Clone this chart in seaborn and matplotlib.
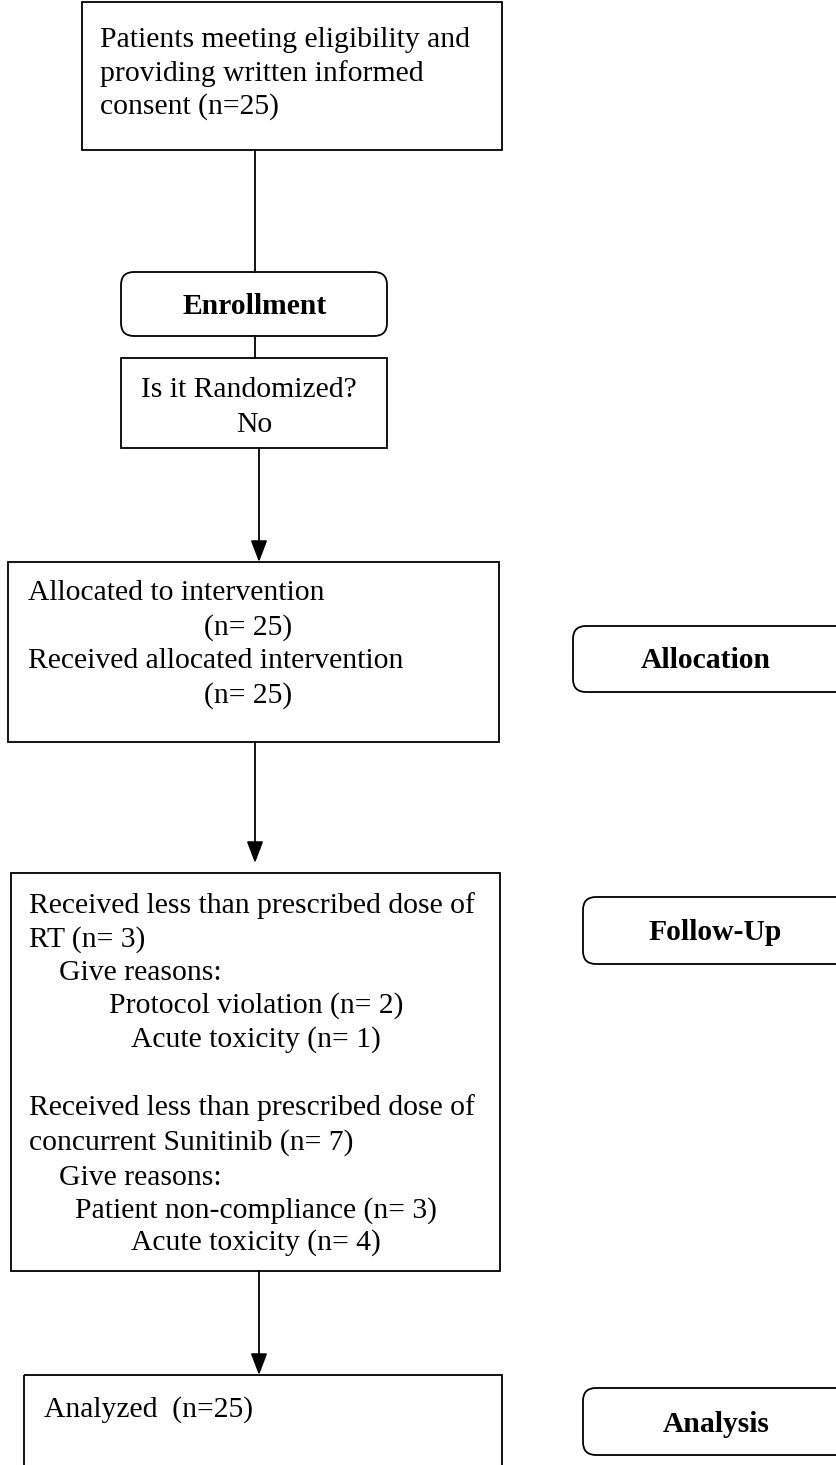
import matplotlib
matplotlib.use("Agg")
import matplotlib.pyplot as plt
from matplotlib.patches import Rectangle, FancyBboxPatch
import seaborn as sns

# Textos do fluxograma (CONSORT)
texto_elegiveis = ["Patients meeting eligibility and",
                   "providing written informed",
                   "consent (n=25)"]
texto_randomizado = ["Is it Randomized?", "No"]
texto_alocacao = ["Allocated to intervention", "(n= 25)",
                  "Received allocated intervention", "(n= 25)"]
texto_seguimento = ["Received less than prescribed dose of",
                    "RT (n= 3)",
                    "Give reasons:",
                    "Protocol violation (n= 2)",
                    "Acute toxicity (n= 1)",
                    "Received less than prescribed dose of",
                    "concurrent Sunitinib (n= 7)",
                    "Give reasons:",
                    "Patient non-compliance (n= 3)",
                    "Acute toxicity (n= 4)"]
texto_analise = ["Analyzed  (n=25)"]
etapas = ["Enrollment", "Allocation", "Follow-Up", "Analysis"]

sns.set_theme(style="white")
plt.rcParams['font.family'] = ['Liberation Serif', 'DejaVu Serif']

fig = plt.figure(figsize=(8.37, 14.65), dpi=100)
ax = fig.add_axes([0, 0, 1, 1])
ax.set_xlim(0, 837)
ax.set_ylim(1465, 0)
ax.axis('off')

lw = 1.3
fs = 21.3
dy = 2  # pequeno ajuste vertical do texto


def caixa(x0, y0, x1, y1):
    ax.add_patch(Rectangle((x0, y0), x1 - x0, y1 - y0, fill=False,
                           edgecolor='black', linewidth=lw))


def caixa_redonda(x0, y0, x1, y1, texto, cx, cy):
    ax.add_patch(FancyBboxPatch((x0, y0), x1 - x0, y1 - y0,
                                boxstyle="round,pad=0,rounding_size=13",
                                fill=False, edgecolor='black', linewidth=lw))
    ax.text(cx, cy + dy, texto, ha='center', va='center', fontsize=fs,
            fontweight='bold', color='black')


def linha(x, y0, y1, seta=False):
    if seta:
        ax.annotate('', xy=(x, y1), xytext=(x, y0),
                    arrowprops=dict(arrowstyle='-|>,head_length=1.1,head_width=0.42',
                                    color='black', lw=lw, shrinkA=0, shrinkB=0))
    else:
        ax.plot([x, x], [y0, y1], color='black', lw=lw)


def escreve(x, y, s, ha='left'):
    ax.text(x, y + dy, s, ha=ha, va='center', fontsize=fs, color='black')


# Caixa inicial
caixa(82, 2, 502, 150)
for s, y in zip(texto_elegiveis, [38, 72, 105]):
    escreve(100, y, s)
linha(255, 150, 272)

# Enrollment
caixa_redonda(121, 272, 387, 336, etapas[0], 255, 304)
linha(255, 336, 358)

# Randomizado?
caixa(121, 358, 387, 448)
escreve(141, 388, texto_randomizado[0])
escreve(254, 423, texto_randomizado[1], ha='center')
linha(259, 448, 562, seta=True)

# Alocação
caixa(8, 562, 499, 742)
escreve(28, 591, texto_alocacao[0])
escreve(248, 626, texto_alocacao[1], ha='center')
escreve(28, 659, texto_alocacao[2])
escreve(248, 694, texto_alocacao[3], ha='center')
caixa_redonda(573, 626, 850, 692, etapas[1], 706, 658)
linha(255, 742, 863, seta=True)

# Seguimento
caixa(11, 873, 500, 1271)
xs = [29, 29, 59, 109, 131, 29, 29, 59, 75, 131]
ys = [904, 938, 971, 1004, 1038, 1106, 1141, 1176, 1209, 1241]
for s, x, y in zip(texto_seguimento, xs, ys):
    escreve(x, y, s)
caixa_redonda(583, 897, 850, 964, etapas[2], 715, 931)
linha(259, 1271, 1375, seta=True)

# Análise
caixa(24, 1375, 502, 1480)
escreve(44, 1408, texto_analise[0])
caixa_redonda(583, 1388, 850, 1455, etapas[3], 716, 1423)

plt.savefig("out.png", dpi=100)
plt.close()
